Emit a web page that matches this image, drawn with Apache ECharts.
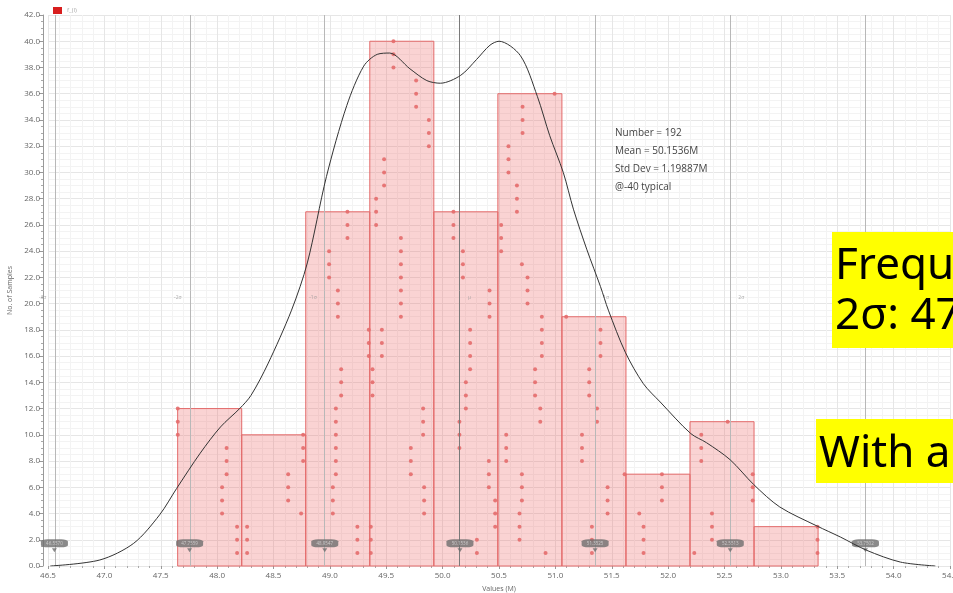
<!DOCTYPE html>
<html>
<head>
<meta charset="utf-8">
<script src="https://cdn.jsdelivr.net/npm/echarts@6/dist/echarts.min.js"></script>
<style>
  html, body { margin: 0; padding: 0; background: #fff; }
  #chart { width: 953px; height: 593px; }
</style>
</head>
<body>
<div id="chart"></div>
<script>
// histogram bins (values in M)
const binEdges = [47.65, 48.218, 48.786, 49.354, 49.922, 50.49, 51.058, 51.626, 52.194, 52.762, 53.33];
const binCounts = [12, 10, 27, 40, 27, 36, 19, 7, 11, 3];

// density curve
const curveX = [46.52, 46.96, 47.26, 47.49, 47.64, 47.85, 48.03, 48.2, 48.3, 48.45, 48.66, 48.8, 48.97,
  49.15, 49.3, 49.42, 49.53, 49.71, 49.86, 49.98, 50.16, 50.3, 50.42, 50.5, 50.69, 50.84, 50.95, 51.07,
  51.16, 51.28, 51.4, 51.47, 51.62, 51.78, 51.93, 52.2, 52.34, 52.55, 52.76, 52.99, 53.32, 53.53, 53.76,
  54.06, 54.37];
const curveY = [0, 0.46, 1.73, 3.9, 5.9, 8.6, 10.6, 12.0, 13.0, 15.4, 19.5, 23.1, 29.7,
  35.1, 38.1, 39.0, 39.1, 37.9, 37.0, 36.8, 37.4, 38.6, 39.7, 40.0, 38.9, 35.8, 32.8, 30.0,
  27.2, 24.1, 21.3, 19.5, 16.3, 13.9, 12.5, 10.1, 9.4, 8.1, 6.2, 4.5, 3.05, 2.2, 1.2,
  0.3, 0];

// sample dots: column x, and the sample counts stacked in it
const dotX = [47.651, 48.044, 48.084, 48.177,
  48.266, 48.63, 48.745, 48.763,
  48.993, 49.026, 49.053, 49.071, 49.1, 49.156, 49.244, 49.345,
  49.363, 49.378, 49.41, 49.461, 49.481, 49.564, 49.63, 49.718, 49.765, 49.827, 49.836, 49.878,
  50.096, 50.149, 50.18, 50.206, 50.244, 50.304, 50.41, 50.416, 50.466,
  50.519, 50.564, 50.584, 50.659, 50.682, 50.703, 50.709, 50.753, 50.82, 50.866, 50.88, 50.913, 50.993,
  51.096, 51.236, 51.3, 51.324, 51.369, 51.4, 51.463, 51.614,
  51.744, 51.782, 51.945,
  52.232, 52.294, 52.389, 52.528, 52.75,
  53.325];
const dotY = [[10, 11, 12], [4, 5, 6], [7, 8, 9], [1, 2, 3],
  [1, 2, 3], [5, 6, 7], [4], [8, 9, 10],
  [22, 23, 24], [4, 5, 6], [7, 8, 9, 10, 11, 12], [19, 20, 21], [13, 14, 15], [25, 26, 27], [1, 2, 3], [16, 17, 18],
  [1, 2, 3], [13, 14, 15], [26, 27, 28], [16, 17, 18], [29, 30, 31], [38, 39, 40], [19, 20, 21, 22, 23, 24, 25], [7, 8, 9], [35, 36, 37], [10, 11, 12], [4, 5, 6], [32, 33, 34],
  [25, 26, 27], [9, 10, 11], [22, 23, 24], [12, 13, 14], [15, 16, 17, 18], [1, 2], [6, 7, 8], [19, 20, 21], [3, 4, 5],
  [24, 25, 26], [8, 9, 10], [30, 31, 32], [27, 28, 29], [2, 3, 4], [5, 6, 7, 23], [33, 34, 35], [20, 21, 22], [13, 14, 15], [11, 12], [16, 17, 18, 19], [1], [36],
  [19], [8, 9, 10], [13, 14, 15], [1, 2, 3], [11, 12], [16, 17, 18], [4, 5, 6], [7],
  [4], [1, 2, 3], [5, 6, 7],
  [1], [8, 9, 10], [2, 3, 4], [11], [5, 6, 7],
  [1, 2, 3]];

// mean +/- k sigma markers
const sigmaX = [46.557, 47.7559, 48.9547, 50.1536, 51.3525, 52.5513, 53.7502];
const sigmaText = ["46.5570", "47.7559", "48.9547", "50.1536", "51.3525", "52.5513", "53.7502"];
const sigmaTag = ["-3σ", "-2σ", "-1σ", "μ", "1σ", "2σ", "3σ"];

const statsLines = ["Number = 192", "Mean = 50.1536M", "Std Dev = 1.19887M", "@-40 typical"];

const chart = echarts.init(document.getElementById("chart"));

const dots = [];
dotX.forEach((x, i) => dotY[i].forEach(y => dots.push([x, y])));

const bins = binCounts.map((c, i) => [binEdges[i], binEdges[i + 1], c]);

const axisFont = { fontFamily: "Open Sans", fontSize: 8, color: "#666" };

const option = {
  animation: false,
  backgroundColor: "#fff",
  legend: {
    left: 48, top: 2, itemWidth: 9, itemHeight: 7, itemGap: 4,
    data: [{ name: "f_(l)", icon: "rect" }],
    textStyle: { fontFamily: "Open Sans", fontSize: 6, color: "#aaa" }
  },
  grid: { left: 48, right: 3, top: 15, bottom: 27, containLabel: false, outerBoundsMode: "none" },
  xAxis: {
    type: "value", min: 46.5, max: 54.5, interval: 0.5, offset: 4,
    name: "Values (M)", nameLocation: "middle", nameGap: 15,
    nameTextStyle: { fontFamily: "Open Sans", fontSize: 7, color: "#666" },
    axisLine: { show: false },
    axisTick: { show: true, length: 3, lineStyle: { color: "#999" } },
    minorTick: { show: true, splitNumber: 5, length: 2, lineStyle: { color: "#aaa" } },
    axisLabel: { ...axisFont, margin: 2, formatter: v => v.toFixed(1) },
    splitLine: { show: true, lineStyle: { color: "#e6e6e6" } },
    minorSplitLine: { show: true, lineStyle: { color: "#f3f3f3" } }
  },
  yAxis: {
    type: "value", min: 0, max: 42, interval: 2, offset: 5,
    name: "No. of Samples", nameLocation: "middle", nameGap: 22,
    nameTextStyle: { fontFamily: "Open Sans", fontSize: 7, color: "#666" },
    axisLine: { show: true, lineStyle: { color: "#999" } },
    axisTick: { show: true, length: 4, lineStyle: { color: "#999" } },
    minorTick: { show: true, splitNumber: 4, length: 2, lineStyle: { color: "#aaa" } },
    axisLabel: { ...axisFont, margin: 3, formatter: v => v.toFixed(1) },
    splitLine: { show: true, lineStyle: { color: "#e6e6e6" } },
    minorSplitLine: { show: true, lineStyle: { color: "#f3f3f3" } }
  },
  series: [
    {
      name: "f_(l)",
      type: "custom",
      itemStyle: { color: "#d81e1e" },
      encode: { x: [0, 1], y: 2 },
      data: bins,
      z: 2,
      renderItem: (params, api) => {
        const p0 = api.coord([api.value(0), 0]);
        const p1 = api.coord([api.value(1), api.value(2)]);
        return {
          type: "rect",
          shape: { x: p0[0], y: p1[1], width: p1[0] - p0[0], height: p0[1] - p1[1] },
          style: { fill: "rgba(240,110,110,0.30)", stroke: "#e36a6a", lineWidth: 1 }
        };
      }
    },
    {
      name: "samples",
      type: "scatter",
      symbolSize: 4,
      itemStyle: { color: "#e46b6b", opacity: 0.9 },
      data: dots,
      z: 3
    },
    {
      name: "sigma",
      type: "scatter",
      symbol: "roundRect",
      symbolSize: [27, 8],
      itemStyle: { color: "#6e6e6e" },
      data: sigmaX.map((x, i) => ({ value: [x, 1.73], name: sigmaText[i] })),
      label: { show: true, position: "inside", formatter: p => p.name, fontSize: 4.5, color: "#ddd", fontFamily: "Open Sans" },
      z: 5,
      markLine: {
        silent: true,
        symbol: ["none", "none"],
        label: { show: false },
        data: sigmaX.map((x, i) => ({
          xAxis: x,
          lineStyle: { color: i === 3 ? "#7a7a7a" : "#b8b8b8", width: 1, type: "solid" }
        }))
      }
    },
    {
      name: "sigmaPin",
      type: "scatter",
      symbol: "triangle",
      symbolRotate: 180,
      symbolSize: [5, 4],
      itemStyle: { color: "#6e6e6e" },
      data: sigmaX.map(x => [x, 1.2]),
      z: 5
    },
    {
      name: "sigmaTag",
      type: "scatter",
      symbolSize: 0,
      data: sigmaX.map((x, i) => ({ value: [x, 20.45], name: sigmaTag[i] })),
      label: {
        show: true, formatter: p => p.name, fontSize: 5, color: "#999", fontFamily: "Open Sans",
        position: "left", distance: 8
      },
      z: 4
    },
    {
      name: "curve",
      type: "line",
      smooth: 0.3,
      showSymbol: false,
      lineStyle: { color: "#333", width: 1 },
      data: curveX.map((x, i) => [x, curveY[i]]),
      z: 6
    }
  ],
  graphic: [
    {
      type: "text", left: 615, top: 124, z: 10,
      style: { text: statsLines.join("\n"), fontFamily: "Open Sans", fontSize: 10, lineHeight: 18, fill: "#444" }
    },
    { type: "rect", shape: { x: 832, y: 232, width: 130, height: 116 }, style: { fill: "#ffff00" }, z: 10 },
    {
      type: "text", left: 835, top: 241, z: 11,
      style: { text: "Frequ\n2σ: 47", fontFamily: "Noto Sans", fontSize: 44, lineHeight: 50, fill: "#000" }
    },
    { type: "rect", shape: { x: 816, y: 419, width: 145, height: 64 }, style: { fill: "#ffff00" }, z: 10 },
    {
      type: "text", left: 819, top: 426, z: 11,
      style: { text: "With a", fontFamily: "Noto Sans", fontSize: 44, lineHeight: 56, fill: "#000" }
    }
  ]
};

// tags on the positive side sit to the right of their line
option.series[4].data.forEach((d, i) => {
  if (i >= 3) d.label = { position: "right" };
});

chart.setOption(option);
</script>
</body>
</html>
